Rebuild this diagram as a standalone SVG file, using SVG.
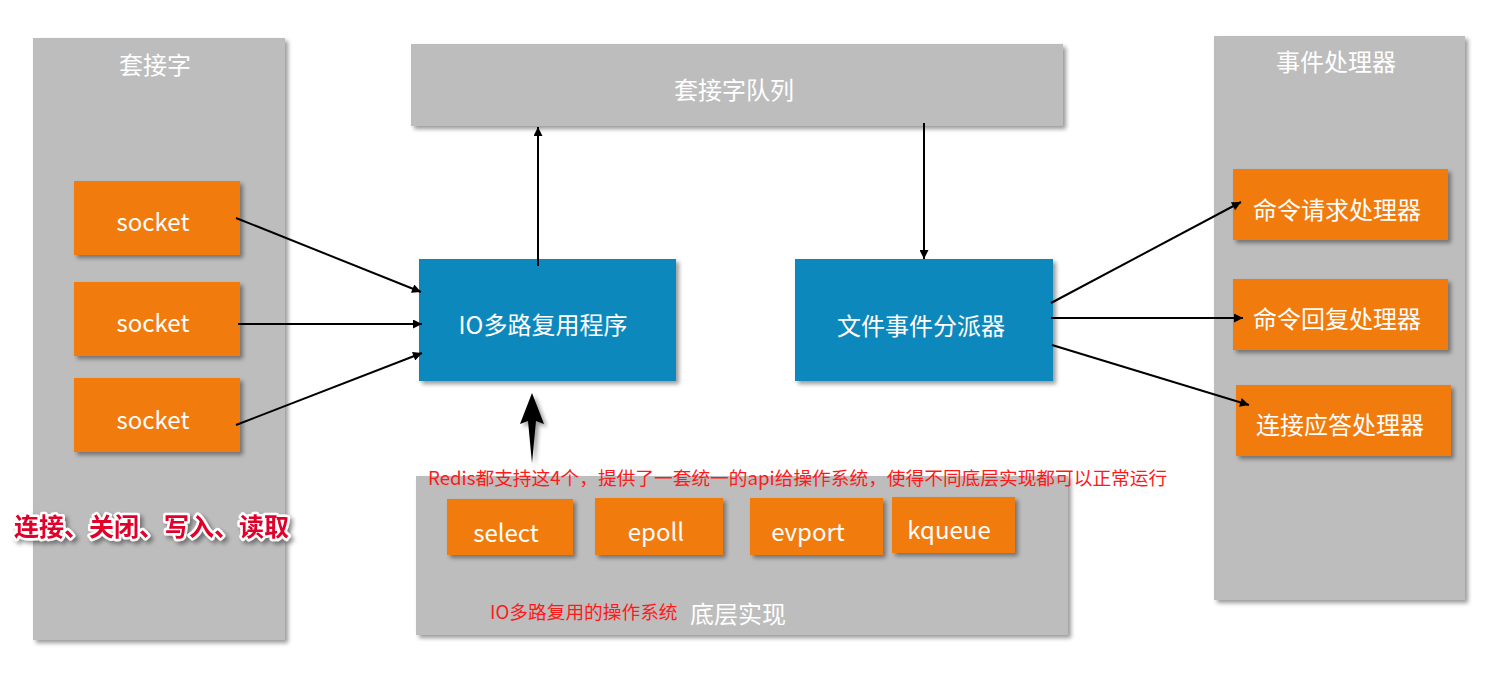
<svg xmlns="http://www.w3.org/2000/svg" width="1503" height="683" viewBox="0 0 1503 683">
<defs>
<filter id="sh" x="-10%" y="-10%" width="130%" height="130%">
<feDropShadow dx="3" dy="3" stdDeviation="2" flood-color="#000" flood-opacity="0.4"/>
</filter>
<marker id="ah" viewBox="0 0 10 10" refX="10" refY="5" markerWidth="12" markerHeight="9" markerUnits="userSpaceOnUse" orient="auto">
<path d="M0,0 L10,5 L0,10 z" fill="#000"/>
</marker>
</defs>
<style>
.panel{fill:#bdbdbd;filter:url(#sh)}
.org{fill:#f17c07;filter:url(#sh)}
.blue{fill:#0e88bd;filter:url(#sh)}
.t{font-family:"Noto Sans CJK SC","Noto Sans",sans-serif;fill:#fff;text-anchor:middle;dominant-baseline:central;font-size:24px;font-weight:normal}
.red{font-family:"Noto Sans CJK SC",sans-serif;fill:#ff1a1a;font-size:18.7px}
.con{stroke:#000;stroke-width:2;fill:none;marker-end:url(#ah)}
</style>
<rect width="1503" height="683" fill="#fff"/>
<g id="left-panel">
<rect class="panel" x="33" y="38" width="252" height="602"/>
<text class="t" x="155" y="63">套接字</text>
</g>
<g id="socket1"><rect class="org" x="74" y="181" width="166" height="74"/><text class="t" x="153" y="220">socket</text></g>
<g id="socket2"><rect class="org" x="74" y="282" width="166" height="74"/><text class="t" x="153" y="321">socket</text></g>
<g id="socket3"><rect class="org" x="74" y="378" width="166" height="74"/><text class="t" x="153" y="418">socket</text></g>
<g id="queue">
<rect class="panel" x="411" y="44" width="652" height="82"/>
<text class="t" x="734" y="88">套接字队列</text>
</g>
<g id="io">
<rect class="blue" x="419" y="259" width="257" height="122"/>
<text class="t" x="543" y="323">IO多路复用程序</text>
</g>
<g id="dispatcher">
<rect class="blue" x="795" y="259" width="258" height="122"/>
<text class="t" x="921" y="324">文件事件分派器</text>
</g>
<g id="right-panel">
<rect class="panel" x="1214" y="36" width="251" height="564"/>
<text class="t" x="1336" y="60">事件处理器</text>
</g>
<g id="h1"><rect class="org" x="1233" y="169" width="215" height="71"/><text class="t" x="1337" y="208">命令请求处理器</text></g>
<g id="h2"><rect class="org" x="1233" y="279" width="215" height="71"/><text class="t" x="1337" y="317">命令回复处理器</text></g>
<g id="h3"><rect class="org" x="1236" y="385" width="215" height="71"/><text class="t" x="1340" y="423">连接应答处理器</text></g>
<g id="bottom-panel">
<rect class="panel" x="416" y="476" width="652" height="159"/>
<text class="t" x="738" y="612">底层实现</text>
<text class="red" x="490" y="619" font-size="19">IO多路复用的操作系统</text>
</g>
<g id="select"><rect class="org" x="447" y="499" width="126" height="56"/><text class="t" x="506" y="531">select</text></g>
<g id="epoll"><rect class="org" x="595" y="498" width="128" height="57"/><text class="t" x="656" y="530">epoll</text></g>
<g id="evport"><rect class="org" x="750" y="498" width="133" height="57"/><text class="t" x="808" y="530">evport</text></g>
<g id="kqueue"><rect class="org" x="892" y="497" width="123" height="56"/><text class="t" x="949" y="528">kqueue</text></g>
<g id="connectors">
<line class="con" x1="236" y1="218" x2="421" y2="292"/>
<line class="con" x1="238" y1="324" x2="422" y2="324"/>
<line class="con" x1="236" y1="425" x2="422" y2="353"/>
<line class="con" x1="538" y1="266" x2="538" y2="127"/>
<line class="con" x1="924" y1="123" x2="924" y2="259"/>
<line class="con" x1="1051" y1="303" x2="1241" y2="202"/>
<line class="con" x1="1051" y1="318" x2="1243" y2="318"/>
<line class="con" x1="1052" y1="345" x2="1249" y2="405"/>
<path d="M532,393 L520,424 L528,421 L532,463 L536,421 L544,424 Z" fill="#000" filter="url(#sh)"/>
</g>
<g id="annotations">
<text class="red" x="428" y="485">Redis都支持这4个，提供了一套统一的api给操作系统，使得不同底层实现都可以正常运行</text>
<text x="14" y="536" font-family="Noto Sans CJK SC,sans-serif" font-size="25" font-weight="bold" fill="#e0002a" stroke="#fff" stroke-width="5" paint-order="stroke" stroke-linejoin="round" filter="url(#sh)">连接、关闭、写入、读取</text>
</g>
</svg>
